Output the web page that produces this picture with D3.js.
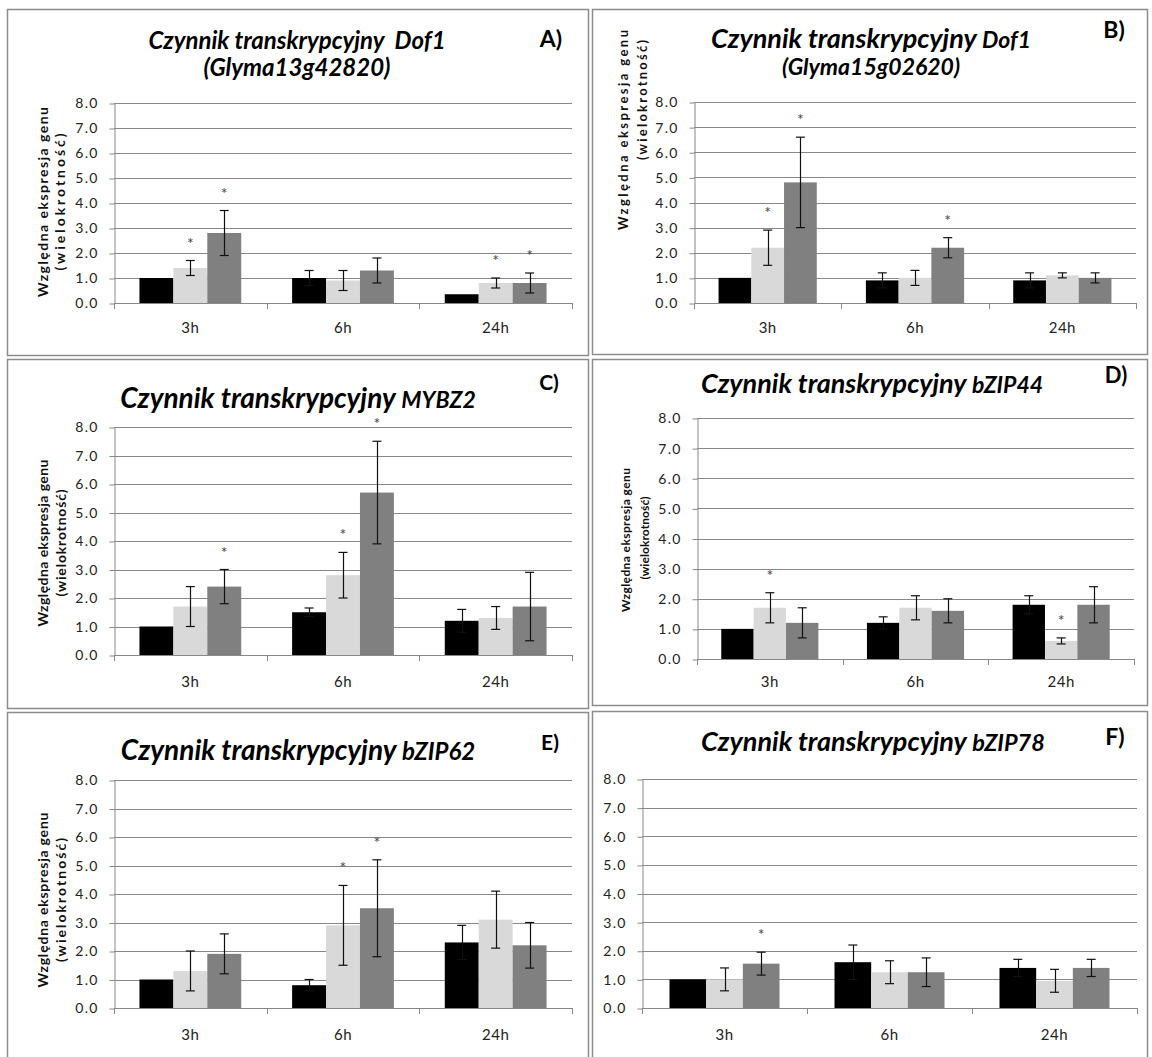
<!DOCTYPE html>
<html>
<head>
<meta charset="utf-8">
<script src="https://cdn.jsdelivr.net/npm/d3@7"></script>
<style>
  body { margin: 0; background: #fff; }
  svg { display: block; font-family: Lato, "Open Sans", sans-serif; }
  text { white-space: pre; }
</style>
</head>
<body>
<svg id="chart" width="1152" height="1057"></svg>
<script>
// time points and series (black = control, light / dark gray = treatments)
const groups = ["3h", "6h", "24h"];
const seriesColors = ["#000000", "#d9d9d9", "#808080"];
const yTicks = [0, 1, 2, 3, 4, 5, 6, 7, 8];

// A) Dof1 (Glyma13g42820)  - rows: black, light, dark ; cols: 3h, 6h, 24h
const valuesA = [[1.0, 1.0, 0.35], [1.4, 0.9, 0.8], [2.8, 1.3, 0.8]];
const errorsA = [[0, 0.3, 0], [0.3, 0.4, 0.2], [0.9, 0.5, 0.4]];
const starsA  = [[0, 0, 0], [1, 0, 1], [1, 0, 1]];

// B) Dof1 (Glyma15g02620)
const valuesB = [[1.0, 0.9, 0.9], [2.2, 1.0, 1.1], [4.8, 2.2, 1.0]];
const errorsB = [[0, 0.3, 0.3], [0.7, 0.3, 0.1], [1.8, 0.4, 0.2]];
const starsB  = [[0, 0, 0], [1, 0, 0], [1, 1, 0]];

// C) MYBZ2
const valuesC = [[1.0, 1.5, 1.2], [1.7, 2.8, 1.3], [2.4, 5.7, 1.7]];
const errorsC = [[0, 0.15, 0.4], [0.7, 0.8, 0.4], [0.6, 1.8, 1.2]];
const starsC  = [[0, 0, 0], [0, 1, 0], [1, 1, 0]];

// D) bZIP44
const valuesD = [[1.0, 1.2, 1.8], [1.7, 1.7, 0.6], [1.2, 1.6, 1.8]];
const errorsD = [[0, 0.2, 0.3], [0.5, 0.4, 0.1], [0.5, 0.4, 0.6]];
const starsD  = [[0, 0, 0], [1, 0, 1], [0, 0, 0]];

// E) bZIP62
const valuesE = [[1.0, 0.8, 2.3], [1.3, 2.9, 3.1], [1.9, 3.5, 2.2]];
const errorsE = [[0, 0.2, 0.6], [0.7, 1.4, 1.0], [0.7, 1.7, 0.8]];
const starsE  = [[0, 0, 0], [0, 1, 0], [0, 1, 0]];

// F) bZIP78
const valuesF = [[1.0, 1.6, 1.4], [1.0, 1.25, 0.95], [1.55, 1.25, 1.4]];
const errorsF = [[0, 0.6, 0.3], [0.4, 0.4, 0.4], [0.4, 0.5, 0.3]];
const starsF  = [[0, 0, 0], [0, 0, 0], [1, 0, 0]];

const yTitle1 = "Względna ekspresja genu";
const yTitle2 = "(wielokrotność)";

// layout of each panel (box = border, plot = [x0, x1, yTop, yBottom])
// yTitle = [x line1, x line2, centre line1, centre line2, length line1, length line2]
const panels = [
  { letter: "A)", title: "Czynnik transkrypcyjny  ", gene: "Dof1", sub: "(Glyma13g42820)",
    values: valuesA, errors: errorsA, stars: starsA,
    box: [7, 9, 588, 355], plot: [114, 572, 103, 303], labelGap: 30,
    titleX: 297, titleY: 49, subGap: 27, titleSize: 24, geneSize: 24, subSize: 24,
    letterX: 551, letterY: 47, letterSize: 23,
    yTitle: [43, 60, 202, 202, 190, 137], yTitleSize: 14 },
  { letter: "B)", title: "Czynnik transkrypcyjny ", gene: "Dof1", sub: "(Glyma15g02620)",
    values: valuesB, errors: errorsB, stars: starsB,
    box: [592, 9, 1147, 354], plot: [694, 1136, 102, 303], labelGap: 30,
    titleX: 871, titleY: 48, subGap: 27, titleSize: 27, geneSize: 23, subSize: 23,
    letterX: 1114, letterY: 38, letterSize: 23,
    yTitle: [623, 642, 130, 100, 200, 120], yTitleSize: 13 },
  { letter: "C)", title: "Czynnik transkrypcyjny ", gene: "MYBZ2", sub: null,
    values: valuesC, errors: errorsC, stars: starsC,
    box: [7, 359, 588, 708], plot: [114, 572, 427, 655], labelGap: 32,
    titleX: 298, titleY: 408, titleSize: 28, geneSize: 23,
    letterX: 549, letterY: 390, letterSize: 21,
    yTitle: [43, 61, 543, 543, 167, 107], yTitleSize: 14 },
  { letter: "D)", title: "Czynnik transkrypcyjny ", gene: "bZIP44", sub: null,
    values: valuesD, errors: errorsD, stars: starsD,
    box: [592, 359, 1147, 705], plot: [697, 1134, 418, 659], labelGap: 28,
    titleX: 872, titleY: 393, titleSize: 27, geneSize: 23,
    letterX: 1116, letterY: 383, letterSize: 22,
    yTitle: [626, 645, 540, 538, 144, 83], yTitleSize: 12 },
  { letter: "E)", title: "Czynnik transkrypcyjny ", gene: "bZIP62", sub: null,
    values: valuesE, errors: errorsE, stars: starsE,
    box: [7, 712, 588, 1070], plot: [114, 572, 780, 1008], labelGap: 32,
    titleX: 298, titleY: 760, titleSize: 28, geneSize: 24,
    letterX: 550, letterY: 750, letterSize: 21,
    yTitle: [43, 61, 900, 900, 175, 124], yTitleSize: 14 },
  { letter: "F)", title: "Czynnik transkrypcyjny ", gene: "bZIP78", sub: null,
    values: valuesF, errors: errorsF, stars: starsF,
    box: [592, 711, 1147, 1070], plot: [642, 1137, 779, 1008], labelGap: 32,
    titleX: 873, titleY: 751, titleSize: 27, geneSize: 23.5,
    letterX: 1115, letterY: 745, letterSize: 23,
    yTitle: null }
];

const svg = d3.select("#chart");

panels.forEach(function (p) {
  const g = svg.append("g");

  // panel frame
  g.append("rect")
    .attr("x", p.box[0] + 0.5).attr("y", p.box[1] + 0.5)
    .attr("width", p.box[2] - p.box[0]).attr("height", p.box[3] - p.box[1])
    .attr("fill", "none").attr("stroke", "#8c8c8c").attr("stroke-width", 1.5);

  const x = d3.scaleBand().domain(groups).range([p.plot[0], p.plot[1]]);
  const bw = x.bandwidth();
  const xs = d3.scaleBand().domain([0, 1, 2]).range([bw / 6, bw * 5 / 6]);
  const y = d3.scaleLinear().domain([0, 8]).range([p.plot[3], p.plot[2]]);

  // gridlines
  g.append("g").selectAll("line")
    .data(yTicks.slice(1))
    .join("line")
    .attr("x1", p.plot[0]).attr("x2", p.plot[1])
    .attr("y1", d => Math.round(y(d)) + 0.5).attr("y2", d => Math.round(y(d)) + 0.5)
    .attr("stroke", "#888");

  // y axis
  const ya = g.append("g")
    .attr("transform", "translate(" + (p.plot[0] + 0.5) + ",0.5)")
    .call(d3.axisLeft(y).tickValues(yTicks).tickFormat(d3.format(".1f"))
      .tickSize(5).tickSizeOuter(0).tickPadding(11));
  ya.select(".domain").attr("stroke", "#888");
  ya.selectAll(".tick line").attr("stroke", "#888");
  ya.selectAll(".tick text")
    .attr("font-family", "Lato, sans-serif")
    .attr("font-size", 14).attr("letter-spacing", 1.2).attr("fill", "#222");

  // x axis line + boundary ticks
  g.append("line")
    .attr("x1", p.plot[0]).attr("x2", p.plot[1])
    .attr("y1", p.plot[3] + 0.5).attr("y2", p.plot[3] + 0.5)
    .attr("stroke", "#888");
  g.append("g").selectAll("line")
    .data(groups.map(d => x(d)).concat([x(groups[2]) + bw]))
    .join("line")
    .attr("x1", d => Math.round(d) + 0.5).attr("x2", d => Math.round(d) + 0.5)
    .attr("y1", p.plot[3]).attr("y2", p.plot[3] + 6)
    .attr("stroke", "#888");

  // category labels
  g.append("g").selectAll("text")
    .data(groups)
    .join("text")
    .attr("x", d => x(d) + bw / 2)
    .attr("y", p.plot[3] + p.labelGap)
    .attr("text-anchor", "middle")
    .attr("font-size", 15)
    .attr("letter-spacing", 0.5)
    .attr("fill", "#222")
    .text(d => d);

  // bars, error bars, stars
  p.values.forEach(function (row, s) {
    const sg = g.append("g");
    const cells = row.map((v, i) => ({ g: groups[i], v: v, e: p.errors[s][i], star: p.stars[s][i] }));
    const cx = d => x(d.g) + xs(s) + xs.bandwidth() / 2;

    sg.selectAll("rect")
      .data(cells)
      .join("rect")
      .attr("x", d => x(d.g) + xs(s))
      .attr("y", d => y(d.v))
      .attr("width", xs.bandwidth())
      .attr("height", d => y(0) - y(d.v))
      .attr("fill", seriesColors[s]);

    const eb = cells.filter(d => d.e > 0);
    sg.selectAll("line.stem")
      .data(eb).join("line").attr("class", "stem")
      .attr("x1", d => Math.round(cx(d)) + 0.5).attr("x2", d => Math.round(cx(d)) + 0.5)
      .attr("y1", d => y(d.v + d.e)).attr("y2", d => y(d.v - d.e))
      .attr("stroke", "#111").attr("stroke-width", 1.2);
    sg.selectAll("line.capTop")
      .data(eb).join("line").attr("class", "capTop")
      .attr("x1", d => cx(d) - 4.5).attr("x2", d => cx(d) + 4.5)
      .attr("y1", d => y(d.v + d.e)).attr("y2", d => y(d.v + d.e))
      .attr("stroke", "#111").attr("stroke-width", 1.2);
    sg.selectAll("line.capBot")
      .data(eb).join("line").attr("class", "capBot")
      .attr("x1", d => cx(d) - 4.5).attr("x2", d => cx(d) + 4.5)
      .attr("y1", d => y(d.v - d.e)).attr("y2", d => y(d.v - d.e))
      .attr("stroke", "#111").attr("stroke-width", 1.2);

    sg.selectAll("text.star")
      .data(cells.filter(d => d.star))
      .join("text").attr("class", "star")
      .attr("x", d => cx(d))
      .attr("y", d => y(d.v + d.e) - 12)
      .attr("text-anchor", "middle")
      .attr("font-size", 16)
      .attr("fill", "#444")
      .text("*");
  });

  // title (one text element, second line as a tspan)
  const t = g.append("text")
    .attr("x", p.titleX).attr("y", p.titleY)
    .attr("text-anchor", "middle")
    .attr("font-weight", "bold").attr("font-style", "italic")
    .attr("font-size", p.titleSize).attr("fill", "#000");
  t.append("tspan").text(p.title);
  t.append("tspan").attr("font-size", p.geneSize).text(p.gene);
  if (p.sub) {
    t.append("tspan")
      .attr("x", p.titleX).attr("dy", p.subGap)
      .attr("font-size", p.subSize)
      .text(p.sub);
  }

  // panel letter
  g.append("text")
    .attr("x", p.letterX).attr("y", p.letterY)
    .attr("text-anchor", "middle")
    .attr("font-weight", "bold").attr("font-size", p.letterSize)
    .text(p.letter);

  // y axis title (two lines, rotated)
  if (p.yTitle) {
    [yTitle1, yTitle2].forEach(function (txt, k) {
      g.append("text")
        .attr("transform", "translate(" + p.yTitle[k] + "," + p.yTitle[2 + k] + ") rotate(-90)")
        .attr("text-anchor", "middle")
        .attr("dy", "0.35em")
        .attr("font-weight", "bold")
        .attr("font-size", p.yTitleSize)
        .attr("textLength", p.yTitle[4 + k])
        .attr("lengthAdjust", "spacing")
        .attr("fill", "#111")
        .text(txt);
    });
  }
});
</script>
</body>
</html>
